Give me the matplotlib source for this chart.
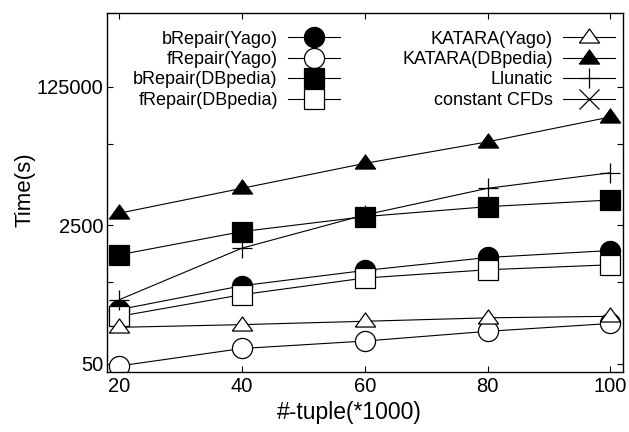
import matplotlib
matplotlib.use("Agg")
import matplotlib.pyplot as plt
from matplotlib.ticker import FixedLocator, NullFormatter

plt.rcParams['font.family'] = ['Liberation Sans', 'DejaVu Sans']

# data (x in thousands of tuples, y in seconds)
tuples = [20, 40, 60, 80, 100]
brepair_yago = [231, 453, 697, 1005, 1224]
frepair_yago = [47, 77, 95, 125, 156]
brepair_dbpedia = [1084, 2089, 3186, 4220, 5096]
frepair_dbpedia = [191, 352, 563, 711, 818]
katara_yago = [140, 151, 166, 183, 191]
katara_dbpedia = [3508, 7087, 14320, 26300, 53100]
llunatic = [305, 1309, 3342, 7087, 10990]
constant_cfds = []  # only in the legend

y_major = [50, 2500, 125000]
y_minor = [500, 25000]

fig = plt.figure(figsize=(6.29, 4.32), dpi=100)
ax = fig.add_axes([0.170, 0.1396, 0.820, 0.8304])

ms = 14.5
# gnuplot-like triangle: wider than tall, point a bit above the base
tri = [(-1, -0.55), (1, -0.55), (0, 0.85), (-1, -0.55)]
common = dict(color='black', linewidth=0.8, markeredgecolor='black', markeredgewidth=0.9)

l1, = ax.plot(tuples, brepair_yago, marker='o', markersize=ms, markerfacecolor='black',
              label='bRepair(Yago)', **common)
l2, = ax.plot(tuples, frepair_yago, marker='o', markersize=ms, markerfacecolor='white',
              label='fRepair(Yago)', **common)
l3, = ax.plot(tuples, brepair_dbpedia, marker='s', markersize=ms - 0.5, markerfacecolor='black',
              label='bRepair(DBpedia)', **common)
l4, = ax.plot(tuples, frepair_dbpedia, marker='s', markersize=ms - 0.5, markerfacecolor='white',
              label='fRepair(DBpedia)', **common)
l5, = ax.plot(tuples, katara_yago, marker=tri, markersize=ms, markerfacecolor='white',
              label='KATARA(Yago)', **common)
l6, = ax.plot(tuples, katara_dbpedia, marker=tri, markersize=ms, markerfacecolor='black',
              label='KATARA(DBpedia)', **common)
l7, = ax.plot(tuples, llunatic, marker='+', markersize=ms,
              label='Llunatic', **common)
l8, = ax.plot(constant_cfds, constant_cfds, marker='x', markersize=ms,
              label='constant CFDs', **common)

ax.set_yscale('log')
ax.set_xlim(18, 102)
ax.set_ylim(40, 1e6)
ax.set_xticks(tuples)
ax.yaxis.set_major_locator(FixedLocator(y_major))
ax.yaxis.set_minor_locator(FixedLocator(y_minor))
ax.yaxis.set_minor_formatter(NullFormatter())
ax.set_yticklabels([str(v) for v in y_major])
ax.xaxis.set_minor_locator(FixedLocator([]))

ax.tick_params(which='both', direction='in', top=True, right=True, length=4,
               width=0.8, labelsize=14.5)
ax.tick_params(axis='y', pad=2.5)
for s in ax.spines.values():
    s.set_linewidth(1.0)

ax.set_xlabel('#-tuple(*1000)', fontsize=16.5, labelpad=4, x=0.470)
ax.set_ylabel('Time(s)', fontsize=16, labelpad=1, y=0.507)

legkw = dict(loc='upper right', frameon=False, markerfirst=False, fontsize=13,
             handlelength=2.9, handletextpad=0.55, labelspacing=0.19, borderpad=0,
             borderaxespad=0)
leg1 = ax.legend(handles=[l1, l2, l3, l4], bbox_to_anchor=(0.452, 0.951), **legkw)
ax.add_artist(leg1)
ax.legend(handles=[l5, l6, l7, l8], bbox_to_anchor=(0.985, 0.951), **legkw)

fig.savefig('out.png', dpi=100)
